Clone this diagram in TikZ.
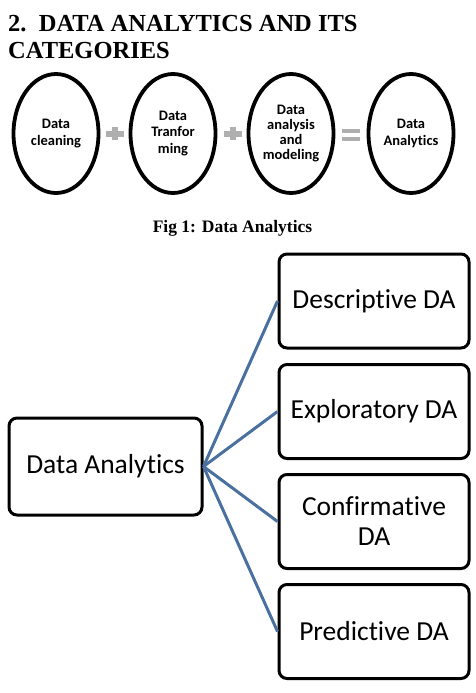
\documentclass[tikz,border=0pt]{standalone}
\usepackage{fontspec}
\usetikzlibrary{shapes.geometric}
\setmainfont{Liberation Serif}
\newfontfamily\carlitofont[RawFeature={-liga}]{Carlito}
\definecolor{linkblue}{RGB}{74,112,160}
\definecolor{signgray}{RGB}{175,175,175}
\begin{document}
\begin{tikzpicture}[x=1pt,y=-1pt,
  oval/.style={ellipse, draw=black, line width=3.8pt, minimum width=85pt, minimum height=119pt, inner sep=0pt, align=center, font=\carlitofont\bfseries\fontsize{14.5}{16.5}\selectfont},
  catbox/.style={draw=black, line width=3pt, rounded corners=8pt, minimum width=190pt, minimum height=94pt, align=center, font=\carlitofont\fontsize{27.5}{30}\selectfont},
  link/.style={draw=linkblue, line width=3pt},
  sign/.style={draw=signgray, line width=6pt}]
\useasboundingbox (0,0) rectangle (475,693);
\node[anchor=base west, inner sep=0pt, font=\bfseries\fontsize{24.5}{27}\selectfont] (title1) at (8,32) {2.\ \ DATA ANALYTICS AND ITS};
\node[anchor=base west, inner sep=0pt, font=\bfseries\fontsize{24.5}{27}\selectfont] (title2) at (8,59) {CATEGORIES};
\node[oval] (e1) at (56,133.5) {Data\\cleaning};
\node[oval] (e2) at (173,133.5) {Data\\Tranfor\\ming};
\node[oval, font=\carlitofont\bfseries\fontsize{14.5}{15}\selectfont] (e3) at (291,133.5) {Data\\analysis\\and\\modeling};
\node[oval] (e4) at (411,133.5) {Data\\Analytics};
\draw[sign] (106,133.5) -- (124,133.5) (115,127) -- (115,140);
\draw[sign] (224,133.5) -- (242,133.5) (233,127) -- (233,140);
\draw[draw=signgray, line width=4pt] (342,130.5) -- (360,130.5) (342,138.5) -- (360,138.5);
\node[anchor=base, inner sep=0pt, font=\bfseries\fontsize{17.5}{20}\selectfont] (cap) at (232.5,232) {Fig 1: Data Analytics};
\node[catbox, minimum width=193pt, minimum height=97pt] (da) at (105.5,466.5) {Data Analytics};
\node[catbox] (d1) at (374,301) {Descriptive DA};
\node[catbox] (d2) at (374,411.5) {Exploratory DA};
\node[catbox] (d3) at (374,521.5) {Confirmative\\DA};
\node[catbox] (d4) at (374,631.5) {Predictive DA};
\foreach \t in {d1,d2,d3,d4} \draw[link] (da.east) -- (\t.west);
\end{tikzpicture}
\end{document}
